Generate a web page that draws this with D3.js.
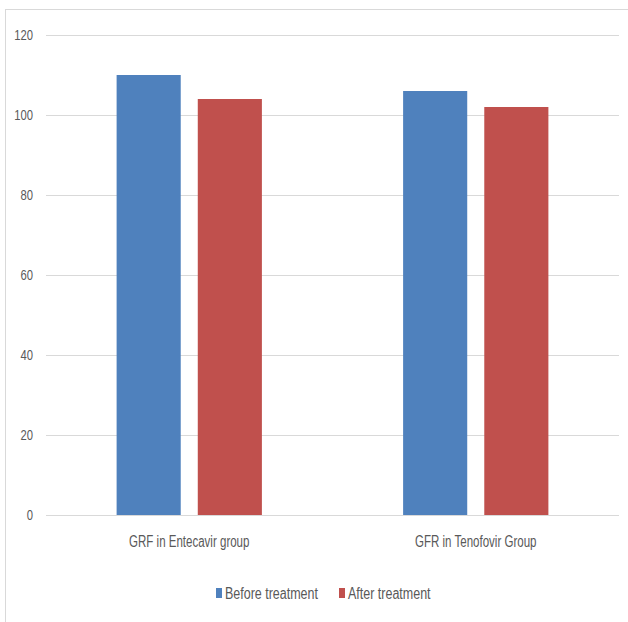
<!DOCTYPE html>
<html><head><meta charset="utf-8">
<script src="https://cdn.jsdelivr.net/npm/d3@7"></script>
<style>
html,body{margin:0;padding:0;background:#fff;}
text{font-family:"Liberation Sans Narrow","Liberation Sans",Arial,sans-serif;fill:#595959;}
</style></head>
<body><svg id="c" width="628" height="622"></svg>
<script>
const categories = ["GRF in Entecavir group", "GFR in Tenofovir Group"];
const seriesNames = ["Before treatment", "After treatment"];
const beforeValues = [110, 106];
const afterValues = [104, 102];
const yTicks = [0, 20, 40, 60, 80, 100, 120];
const colors = ["#4F81BD", "#C0504D"];

function condense(sel, f){
  sel.each(function(){
    const w = this.getComputedTextLength();
    d3.select(this).attr("textLength", w*f).attr("lengthAdjust","spacingAndGlyphs");
  });
}

const svg = d3.select("#c");
// frame
svg.append("line").attr("x1",5.5).attr("x2",5.5).attr("y1",9.5).attr("y2",622).attr("stroke","#d9d9d9");
svg.append("line").attr("x1",5).attr("x2",628).attr("y1",9.5).attr("y2",9.5).attr("stroke","#d9d9d9");

const mLeft = 46, mRight = 619, mTop = 35, mBottom = 515;
const y = d3.scaleLinear().domain([0,120]).range([mBottom, mTop]);
const x0 = d3.scaleBand().domain(categories).range([mLeft, mRight]).paddingInner(0).paddingOuter(0);
const x1 = d3.scaleBand().domain(seriesNames).range([0, x0.bandwidth()]).paddingInner(0.21).paddingOuter(0.87);

// gridlines
const yAxis = d3.axisLeft(y).tickValues(yTicks).tickSize(-(mRight-mLeft)).tickPadding(13).tickFormat(d3.format("d"));
const ga = svg.append("g").attr("transform",`translate(${mLeft},0)`).call(yAxis);
ga.select(".domain").remove();
ga.selectAll(".tick line").attr("stroke","#d9d9d9").attr("stroke-width",1);
ga.selectAll(".tick text").style("font-size","15px").attr("fill","#595959").call(condense, 0.75);

const data = categories.map((c,i)=>({cat:c, vals:[{s:seriesNames[0], v:beforeValues[i]},{s:seriesNames[1], v:afterValues[i]}]}));
const groups = svg.append("g").selectAll("g").data(data).join("g")
  .attr("transform", d=>`translate(${x0(d.cat)},0)`);
groups.selectAll("rect").data(d=>d.vals).join("rect")
  .attr("x", d=>x1(d.s)).attr("width", x1.bandwidth())
  .attr("y", d=>y(d.v)).attr("height", d=>y(0)-y(d.v))
  .attr("fill", (d,i)=>colors[i]);

// x axis labels
const xAxis = d3.axisBottom(x0).tickSize(0).tickPadding(21);
const gx = svg.append("g").attr("transform",`translate(0,${mBottom})`).call(xAxis);
gx.select(".domain").remove();
gx.selectAll(".tick text").style("font-size","16px").attr("fill","#595959").call(condense, 0.72);

// legend
const leg = svg.append("g");
const legX = [216, 339];
seriesNames.forEach((s,i)=>{
  leg.append("rect").attr("x",legX[i]).attr("y",588).attr("width",6).attr("height",10).attr("fill",colors[i]);
  leg.append("text").attr("x",legX[i]+9).attr("y",599).style("font-size","16px").text(s).call(condense, 0.78);
});
</script></body></html>
